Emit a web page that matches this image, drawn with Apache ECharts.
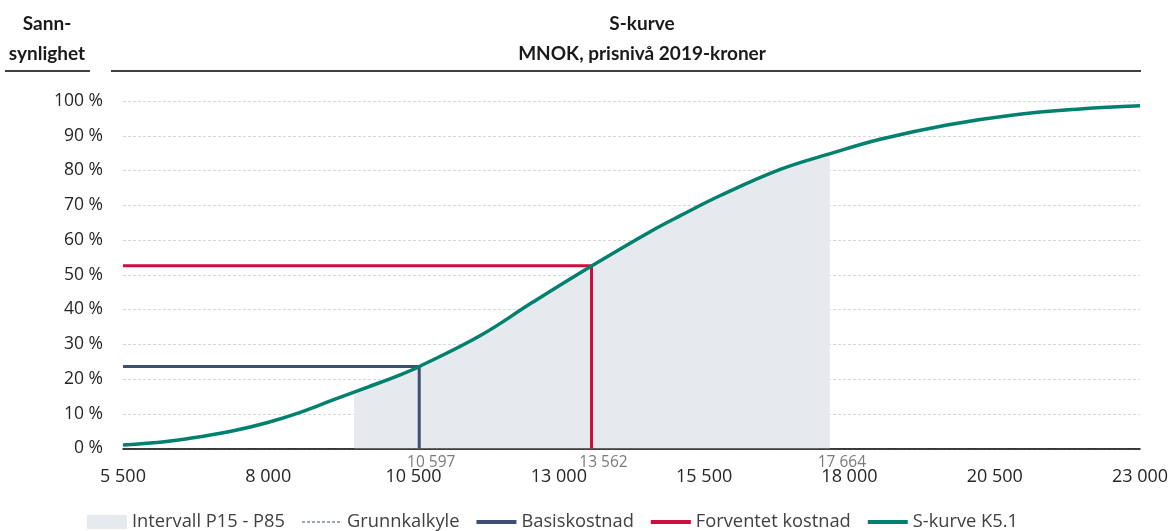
<!DOCTYPE html>
<html>
<head>
<meta charset="utf-8">
<script src="https://cdn.jsdelivr.net/npm/echarts@6/dist/echarts.min.js"></script>
<style>
html,body{margin:0;padding:0;background:#fff;}
#c{width:1172px;height:531px;}
</style>
</head>
<body>
<div id="c"></div>
<script>
// ---- data ----
const xTicks = [5500, 8000, 10500, 13000, 15500, 18000, 20500, 23000];
const sCurveX = [5500, 6250, 6825, 7400, 7975, 8550, 9115, 9700, 10270, 10600, 11650, 12560, 13540, 14570, 15090, 15780, 16810, 17640, 18530, 19680, 20820, 21970, 23000];
const sCurveY = [1.0, 2.0, 3.4, 5.1, 7.4, 10.4, 14.0, 17.6, 21.2, 23.6, 32.5, 42.2, 52.3, 62.4, 67.0, 72.8, 80.3, 84.7, 89.0, 93.1, 96.0, 97.7, 98.6];
const intervalBoundsX = [9476, 17664];
const intervalBoundsY = [16.3, 84.8];
const basisCost = 10597, basisProb = 23.6;
const expectedCost = 13562, expectedProb = 52.6;
const markedCosts = [10597, 13562, 17664];

const TFONT = 'Lato';
const FONT = 'Open Sans';
const TXT = '#404040';
const NAVY = '#3d4f74', RED = '#cf0d3f', TEAL = '#00806f', GREY = '#e6e9ee';

function fmt(v){ return String(Math.round(v)).replace(/\B(?=(\d{3})+(?!\d))/g, ' '); }

const sCurve = sCurveX.map((x,i)=>[x, sCurveY[i]]);
const interval = [[intervalBoundsX[0], intervalBoundsY[0]]]
  .concat(sCurve.filter(p => p[0] > intervalBoundsX[0] && p[0] < intervalBoundsX[1]))
  .concat([[intervalBoundsX[1], intervalBoundsY[1]]]);

// legend icons (40 x 14 boxes)
const solidIcon = 'path://M0,0M0,5h40v4h-40zM40,14';
let dash = 'path://M0,0';
for (let i = 0; i < 40; i += 5) dash += 'M' + i + ',6.4h3v1.2h-3z';
dash += 'M40,14';

const chart = echarts.init(document.getElementById('c'));
chart.setOption({
  animation: false,
  grid: {left: 123, right: 32, top: 101, bottom: 82.5, containLabel: false},
  title: [
    {text: 'S-kurve\nMNOK, prisnivå 2019-kroner', left: 642, top: 9, padding: 0, textAlign: 'center',
     textStyle: {fontFamily: TFONT, fontSize: 19, fontWeight: 'bold', color: '#1a1a1a', lineHeight: 30}},
    {text: 'Sann-\nsynlighet', left: 47, top: 9, padding: 0, textAlign: 'center',
     textStyle: {fontFamily: TFONT, fontSize: 19, fontWeight: 'bold', color: '#1a1a1a', lineHeight: 30}}
  ],
  graphic: [
    {type: 'line', shape: {x1: 5, y1: 71, x2: 90, y2: 71}, style: {stroke: '#000', lineWidth: 1.5}},
    {type: 'line', shape: {x1: 111, y1: 71, x2: 1141, y2: 71}, style: {stroke: '#000', lineWidth: 1.5}}
  ],
  legend: {
    left: 87, top: 513, itemWidth: 40, itemHeight: 14, itemGap: 17, padding: 0,
    itemStyle: {borderWidth: 0},
    textStyle: {fontFamily: FONT, fontSize: 18.3, color: TXT},
    data: [
      {name: 'Intervall P15 - P85', icon: 'rect'},
      {name: 'Grunnkalkyle', icon: dash},
      {name: 'Basiskostnad', icon: solidIcon},
      {name: 'Forventet kostnad', icon: solidIcon},
      {name: 'S-kurve K5.1', icon: solidIcon}
    ]
  },
  xAxis: {
    type: 'value', min: 5500, max: 23000,
    axisLine: {show: true, onZero: true, lineStyle: {color: '#000', width: 1.5}},
    axisTick: {show: false},
    splitLine: {show: false},
    axisLabel: {customValues: xTicks, formatter: v => fmt(v), margin: 19,
      fontFamily: FONT, fontSize: 18, color: '#262626'}
  },
  yAxis: {
    type: 'value', min: 0, max: 100, interval: 10,
    axisLine: {show: false}, axisTick: {show: false},
    splitLine: {show: true, lineStyle: {color: '#d6d6d6', type: [3, 2], width: 1}},
    axisLabel: {formatter: v => v + ' %', margin: 20, fontFamily: FONT, fontSize: 17.5, color: '#262626'}
  },
  series: [
    {name: 'Intervall P15 - P85', type: 'line', data: interval, smooth: 0.4, symbol: 'none',
     lineStyle: {width: 0}, itemStyle: {color: GREY}, areaStyle: {color: GREY, opacity: 1}, z: 1},
    {name: 'Grunnkalkyle', type: 'line', data: [], symbol: 'none',
     itemStyle: {color: NAVY}, lineStyle: {color: NAVY, width: 1, type: [3, 2]}},
    {name: 'Basiskostnad', type: 'line', symbol: 'none', z: 3,
     data: [[5500, basisProb], [basisCost, basisProb], [basisCost, 0]],
     itemStyle: {color: NAVY}, lineStyle: {color: NAVY, width: 3}},
    {name: 'Forventet kostnad', type: 'line', symbol: 'none', z: 3,
     data: [[5500, expectedProb], [expectedCost, expectedProb], [expectedCost, 0]],
     itemStyle: {color: RED}, lineStyle: {color: RED, width: 3}},
    {name: 'S-kurve K5.1', type: 'line', data: sCurve, smooth: 0.4, symbol: 'none', z: 4,
     itemStyle: {color: TEAL}, lineStyle: {color: TEAL, width: 3.5}},
    {name: 'marks', type: 'scatter', symbolSize: 0, clip: false, silent: true,
     data: markedCosts.map(c => [c, 0]),
     label: {show: true, position: 'bottom', distance: 6, offset: [12, 0],
       formatter: p => fmt(p.value[0]), fontFamily: FONT, fontSize: 15.5, color: '#595959'}}
  ]
});
</script>
</body>
</html>
